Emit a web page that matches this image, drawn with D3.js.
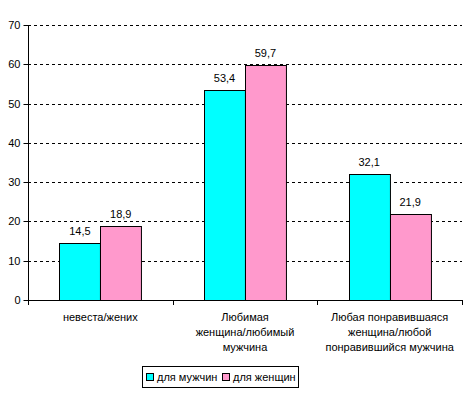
<!DOCTYPE html>
<html><head><meta charset="utf-8">
<script src="https://cdn.jsdelivr.net/npm/d3@7"></script>
<style>body{margin:0;background:#fff}svg{display:block}text{font-family:"Liberation Sans",Arial,sans-serif;font-size:11px;fill:#000}</style>
</head><body>
<svg id="c" width="467" height="395"></svg>
<script>
const categories = [["невеста/жених"], ["Любимая", "женщина/любимый", "мужчина"], ["Любая понравившаяся", "женщина/любой", "понравившийся мужчина"]];
const seriesNames = ["для мужчин", "для женщин"];
const men = [14.5, 53.4, 32.1];
const women = [18.9, 59.7, 21.9];
const yTicks = [0, 10, 20, 30, 40, 50, 60, 70];
const colors = ["#00FFFF", "#FF99CC"];

(function () {
const svg = d3.select("#c");
const pLeft = 28, pRight = 462, pTop = 25, pBottom = 300;
const x = d3.scaleBand().domain(d3.range(categories.length)).range([pLeft, pRight]).paddingInner(0).paddingOuter(0);
const y = d3.scaleLinear().domain([0, 70]).range([pBottom, pTop]);
const groupW = x.bandwidth() * 0.566;
const xs = d3.scaleBand().domain([0, 1]).range([0, groupW]);
const series = [men, women];

// gridlines
svg.append("g").selectAll("line").data(yTicks.filter(d => d > 0)).join("line")
  .attr("x1", pLeft).attr("x2", pRight)
  .attr("y1", d => Math.round(y(d)) + 0.5).attr("y2", d => Math.round(y(d)) + 0.5)
  .attr("stroke", "#000").attr("stroke-dasharray", "3,3");

// y axis
const ya = svg.append("g").attr("transform", `translate(${pLeft + 0.5},0)`)
  .call(d3.axisLeft(y).tickValues(yTicks).tickSize(5).tickPadding(3));
ya.select(".domain").attr("stroke", "#000").attr("d", `M0,${pTop}V${pBottom + 0.5}`);
ya.selectAll(".tick line").attr("stroke", "#000");
ya.selectAll(".tick text").style("font-family", '"Liberation Sans",Arial,sans-serif').style("font-size", "11px").attr("fill", "#000");
ya.selectAll(".tick").attr("transform", d => `translate(0,${Math.round(y(d)) + 0.5})`);

// bars
const g = svg.append("g");
series.forEach((vals, si) => {
  g.selectAll(".b" + si).data(vals).join("rect")
    .attr("x", (d, i) => Math.round(x(i) + (x.bandwidth() - groupW) / 2 + xs(si)) + 0.5)
    .attr("y", d => Math.round(y(d)) + 0.5)
    .attr("width", xs.bandwidth())
    .attr("height", d => pBottom - Math.round(y(d)))
    .attr("fill", colors[si]).attr("stroke", "#000").attr("stroke-width", 1);
  g.selectAll(".l" + si).data(vals).join("text")
    .attr("x", (d, i) => x(i) + (x.bandwidth() - groupW) / 2 + xs(si) + xs.bandwidth() / 2)
    .attr("y", d => y(d) - 8)
    .attr("text-anchor", "middle")
    .text(d => String(d).replace(".", ","));
});

// x axis
svg.append("line").attr("x1", pLeft).attr("x2", pRight + 1).attr("y1", pBottom + 0.5).attr("y2", pBottom + 0.5).attr("stroke", "#000");
svg.append("g").selectAll("line").data(d3.range(categories.length + 1)).join("line")
  .attr("x1", i => Math.round(pLeft + i * x.bandwidth()) + 0.5)
  .attr("x2", i => Math.round(pLeft + i * x.bandwidth()) + 0.5)
  .attr("y1", pBottom).attr("y2", pBottom + 5).attr("stroke", "#000");

// category labels
categories.forEach((lines, i) => {
  const t = svg.append("text").attr("text-anchor", "middle");
  lines.forEach((ln, j) => {
    t.append("tspan").attr("x", x(i) + x.bandwidth() / 2).attr("y", 321 + j * 15).text(ln);
  });
});

// legend
const lg = svg.append("g");
lg.append("rect").attr("x", 142.5).attr("y", 366.5).attr("width", 156).attr("height", 21).attr("fill", "#fff").attr("stroke", "#000");
const lx = [146, 222];
seriesNames.forEach((n, i) => {
  lg.append("rect").attr("x", lx[i] + 0.5).attr("y", 373.5).attr("width", 7).attr("height", 7).attr("fill", colors[i]).attr("stroke", "#000");
  lg.append("text").attr("x", lx[i] + 11).attr("y", 381).text(n);
});
})();
</script>
</body></html>
